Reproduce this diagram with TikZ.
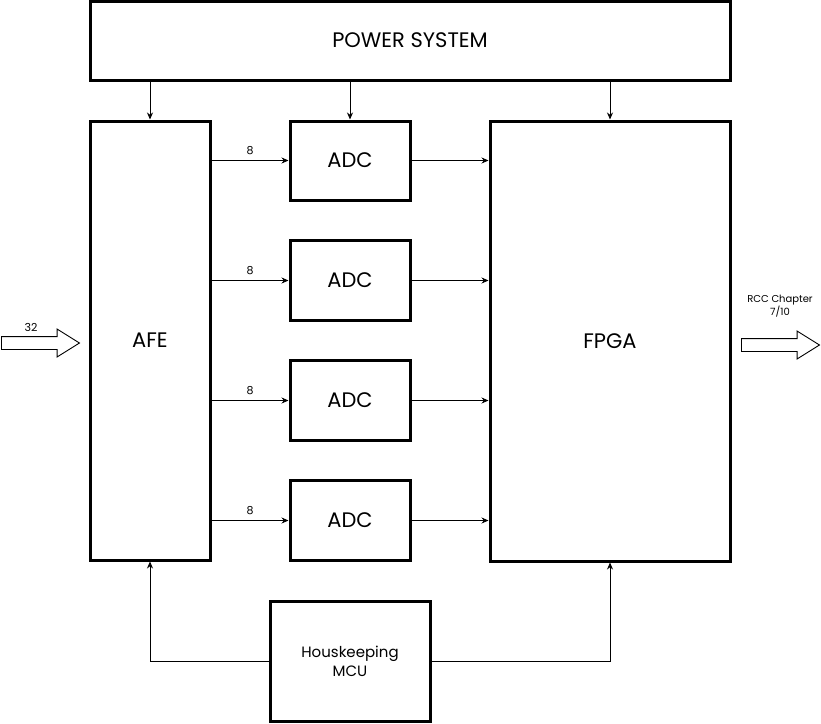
\documentclass[tikz,border=0pt]{standalone}
\usepackage{fontspec}
\setmainfont{Poppins}
\usetikzlibrary{arrows.meta, positioning, shapes.arrows}

\begin{document}
\begin{tikzpicture}[x=1pt,y=1pt,>={Stealth[length=7pt,width=6pt]},line width=0.8pt,
	block/.style={draw, line width=3pt, inner sep=0pt, align=center, font=\fontsize{21}{25}\selectfont},
	fatarrow/.style={draw, line width=0.9pt, single arrow, single arrow head extend=7.5pt, single arrow tip angle=64, inner xsep=0pt, inner ysep=6pt, minimum height=78pt, anchor=tail},
	tag/.style={font=\fontsize{11}{13}\selectfont, inner sep=1pt}]
	
	\useasboundingbox (0,0) rectangle (821,-723);
	
	\node (power) [block, minimum width=640, minimum height=79] at (410,-40.5) {POWER SYSTEM};
	\node (afe) [block, minimum width=120, minimum height=439] at (150,-340.5) {AFE};
	\node (fpga) [block, minimum width=240, minimum height=440] at (610,-341) {FPGA};
	\node (adc1) [block, minimum width=120, minimum height=79] at (350,-160.5) {ADC};
	\node (adc2) [block, minimum width=120, minimum height=80, below=120 of adc1.center, anchor=center] {ADC};
	\node (adc3) [block, minimum width=120, minimum height=80, below=120 of adc2.center, anchor=center] {ADC};
	\node (adc4) [block, minimum width=120, minimum height=80, below=120 of adc3.center, anchor=center] {ADC};
	\node (mcu) [block, minimum width=160, minimum height=120, font=\fontsize{15}{19}\selectfont] at (350,-661) {Houskeeping\\MCU};
	
	\node (inarrow) [fatarrow] at (1,-343) {};
	\node (outarrow) [fatarrow] at (741,-345) {};
	\node (inlabel) [tag] at (31,-327) {32};
	\node (outlabel) [tag, align=center, font=\fontsize{10}{13}\selectfont] at (780,-306) {RCC Chapter\\7/10};
	
	% power distribution
	\draw [->] (power.south -| afe.north) -- (afe.north);
	\draw [->] (power.south -| adc1.north) -- (adc1.north);
	\draw [->] (power.south -| fpga.north) -- (fpga.north);
	
	% data paths
	\foreach \i in {1,...,4} {
		\draw [->] (afe.east |- adc\i) -- (adc\i.west) node [tag, midway, above=4pt] {8};
		\draw [->] (adc\i.east) -- (adc\i.east -| fpga.west);
	}
	
	% housekeeping
	\draw [->] (mcu.west) -| (afe.south);
	\draw [->] (mcu.east) -| (fpga.south);
	
\end{tikzpicture}
\end{document}
